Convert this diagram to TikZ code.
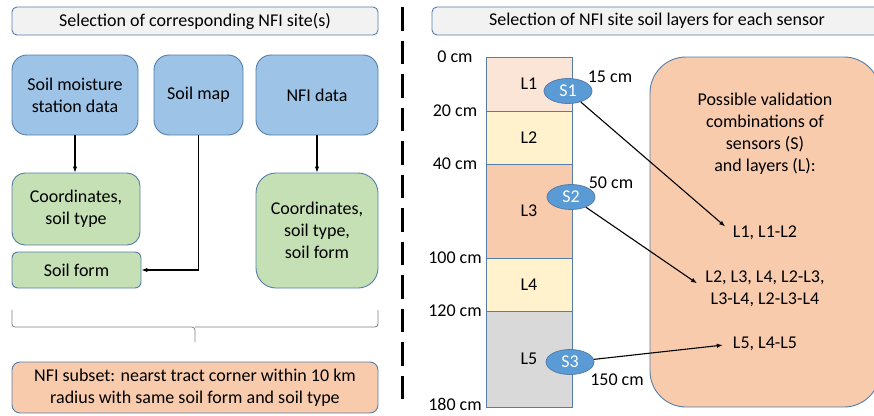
\documentclass[tikz,border=0pt]{standalone}
\usepackage{fontspec}
\setmainfont{Carlito}
\usetikzlibrary{shapes.geometric, arrows.meta}

\definecolor{edgeblue}{RGB}{84,125,170}
\definecolor{srcblue}{RGB}{157,195,230}
\definecolor{resgreen}{RGB}{197,224,180}
\definecolor{peach}{RGB}{248,203,173}
\definecolor{lightpeach}{RGB}{251,229,214}
\definecolor{lightyellow}{RGB}{255,242,204}
\definecolor{lightgrey}{RGB}{217,217,217}
\definecolor{headgrey}{RGB}{242,242,242}
\definecolor{sensorblue}{RGB}{91,155,213}

\begin{document}
\begin{tikzpicture}[x=1pt, y=-1pt,
    every node/.style={font=\fontsize{18}{22}\selectfont, align=center, inner sep=0pt},
    box/.style={draw=edgeblue, line width=0.9pt, rounded corners=#1},
    box/.default=12pt,
    sensor/.style={ellipse, draw=edgeblue, line width=0.8pt, fill=sensorblue, text=white,
      minimum width=48pt, minimum height=25pt},
    layer/.style={draw=edgeblue, line width=0.7pt},
    arr/.style={-{Latex[length=6pt,width=4.5pt]}, line width=1.1pt}]
    \clip (0,0) rectangle (874,415);

    % Left half: selection of NFI sites
    \node[box=5pt, fill=headgrey, minimum width=366pt, minimum height=28pt] (head1) at (195,21) {Selection of corresponding NFI site(s)};
    \node[box=15pt, fill=srcblue, minimum width=126pt, minimum height=80pt] (sm) at (75,95) {Soil moisture\\station data};
    \node[box=15pt, fill=srcblue, minimum width=89pt, minimum height=80pt] (map) at (198.5,95) {Soil map};
    \node[box=15pt, fill=srcblue, minimum width=122pt, minimum height=80pt] (nfi) at (317,95) {NFI data};
    \node[box=13pt, fill=resgreen, minimum width=128pt, minimum height=72pt] (coords) at (76,209) {Coordinates,\\soil type};
    \node[box=6pt, fill=resgreen, minimum width=129pt, minimum height=36pt] (form) at (76.5,270) {Soil form};
    \node[box=20pt, fill=resgreen, minimum width=122pt, minimum height=115pt] (full) at (317,230.5) {Coordinates,\\soil type,\\soil form};
    \node[box=8pt, fill=peach, minimum width=366pt, minimum height=51pt] (subset) at (195,387.5) {NFI subset: nearst tract corner within 10 km\\radius with same soil form and soil type};

    \draw[arr] (sm.south) -- (sm.south |- coords.north);
    \draw[arr] (map.south) |- (form.east);
    \draw[arr] (nfi.south) -- (nfi.south |- full.north);

    % Brace over the subset
    \draw[gray, line width=0.8pt, rounded corners=3pt] (12,310) |- (195,327) -- (195,342);
    \draw[gray, line width=0.8pt, rounded corners=3pt] (378,310) |- (195,327);

    % Divider
    \draw[line width=3pt, dash pattern=on 23.5pt off 10pt] (402,7) -- (402,408);

    % Right half: soil layers and sensors
    \node[box=5pt, fill=headgrey, minimum width=450pt, minimum height=28pt] (head2) at (657,21) {Selection of NFI site soil layers for each sensor};
    \node[box=36pt, fill=peach, minimum width=230pt, minimum height=350pt] (combo) at (765,232) {};

    \foreach \n/\t/\b/\c in {1/57/111/lightpeach, 2/111/164/lightyellow, 3/164/258/peach, 4/258/311/lightyellow, 5/311/407/lightgrey} {
      \draw[layer, fill=\c] (486,\t) rectangle (572,\b);
      \node (l\n) at (529,{(\t+\b)/2}) {L\n};
    }

    % Depth scale
    \foreach \y/\d in {57/0, 111/20, 164/40, 258/100, 311/120, 404/180} {
      \node (d\d) at (455,\y) {\d\ cm};
    }

    \node[sensor] (s1) at (568,91) {S1};
    \node[sensor] (s2) at (571,197) {S2};
    \node[sensor] (s3) at (570,362) {S3};
    \node (t1) at (610,77) {15 cm};
    \node (t2) at (611,183) {50 cm};
    \node (t3) at (617,380) {150 cm};

    \node (intro) at (765,133.5) {Possible validation\\combinations of\\sensors (S)\\and layers (L):};
    \node (c1) at (765,233) {L1, L1-L2};
    \node (c2) at (765,289) {L2, L3, L4, L2-L3,\\L3-L4, L2-L3-L4};
    \node (c3) at (765,344) {L5, L4-L5};

    \draw[arr, shorten >=10pt] (s1) -- (c1.west);
    \draw[arr, shorten >=10pt] (s2) -- (c2.west);
    \draw[arr, shorten >=10pt] (s3) -- (c3.west);
\end{tikzpicture}
\end{document}
